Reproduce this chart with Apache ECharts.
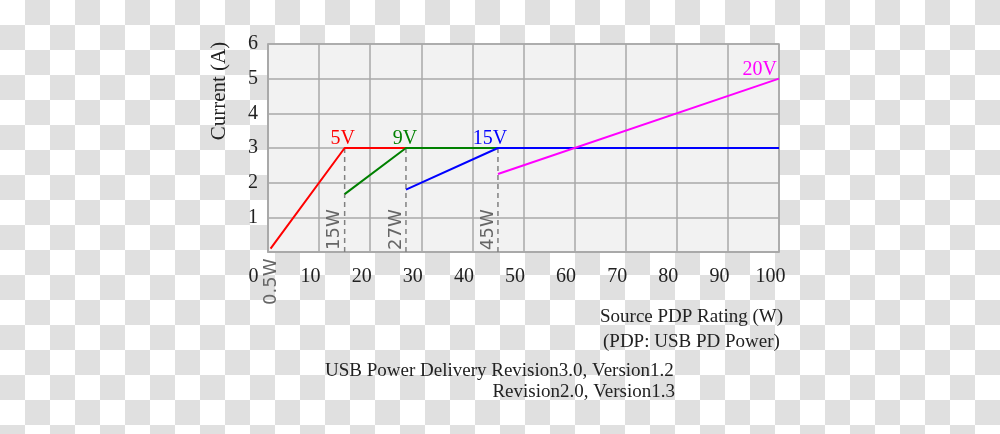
<!DOCTYPE html>
<html>
<head>
<meta charset="utf-8">
<script src="https://cdn.jsdelivr.net/npm/echarts@6/dist/echarts.min.js"></script>
<style>
html,body{margin:0;padding:0;}
body{background:repeating-conic-gradient(#e0e0e0 0 25%, #ffffff 0 50%) 0 0 / 50px 50px;}
#main{width:1000px;height:434px;}
</style>
</head>
<body>
<div id="main"></div>
<script>
// ---- data ----
const series5V  = [[0.5, 0.1], [15, 3], [27, 3]];
const series9V  = [[15, 1.67], [27, 3], [45, 3]];
const series15V = [[27, 1.8], [45, 3], [100, 3]];
const series20V = [[45, 2.25], [100, 5]];
const guideWatts = [15, 27, 45];
const guideLabels = ['15W', '27W', '45W'];
const guideTop = 3;
const startPoint = [0.5, 0];
const startLabel = '0.5W';
const voltLabels = ['5V', '9V', '15V', '20V'];
const voltColors = ['#ff0000', '#008000', '#0000ff', '#ff00ff'];
const voltAnchors = [[15, 3], [27, 3], [45, 3], [100, 5]];
const xMin = 0, xMax = 100, xStep = 10;
const yMin = 0, yMax = 6, yStep = 1;
const yAxisName = 'Current (A)';
const xAxisName1 = 'Source PDP Rating (W)';
const xAxisName2 = '(PDP: USB PD Power)';
const note1 = 'USB Power Delivery Revision3.0, Version1.2';
const note2 = 'Revision2.0, Version1.3';

const SERIF = '"Liberation Serif", "DejaVu Serif", serif';
const SANS = '"DejaVu Sans", sans-serif';
const gridColor = '#a8a8a8';

const chart = echarts.init(document.getElementById('main'), null, {renderer: 'canvas'});

const guideSeries = guideWatts.map(w => ({
  type: 'line', data: [[w, 0], [w, guideTop]], symbol: 'none', silent: true,
  lineStyle: {color: '#808080', width: 1.5, type: [5, 4]}, z: 1
}));

function lineSeries(data, color) {
  return {type: 'line', data: data, symbol: 'none', silent: true,
    lineStyle: {color: color, width: 2}, z: 3};
}

chart.setOption({
  animation: false,
  backgroundColor: 'transparent',
  grid: {left: 268, right: 221, top: 44, bottom: 182, show: true,
    backgroundColor: '#f2f2f2', borderColor: gridColor, borderWidth: 1.5},
  xAxis: {
    type: 'value', min: xMin, max: xMax, interval: xStep,
    axisLine: {show: true, lineStyle: {color: gridColor, width: 1.5}},
    axisTick: {show: false},
    splitLine: {show: true, lineStyle: {color: gridColor, width: 1.5}},
    axisLabel: {color: '#222', fontFamily: SERIF, fontSize: 20, margin: 15,
      padding: [0, 17, 0, 0],
      formatter: v => (v === 0 ? '{z|0}' : String(v)),
      rich: {z: {color: '#222', fontFamily: SERIF, fontSize: 20, padding: [0, 12, 0, 0]}}}
  },
  yAxis: {
    type: 'value', min: yMin, max: yMax, interval: yStep,
    axisLine: {show: true, lineStyle: {color: gridColor, width: 1.5}},
    axisTick: {show: false},
    splitLine: {show: true, lineStyle: {color: gridColor, width: 1.5}},
    axisLabel: {color: '#222', fontFamily: SERIF, fontSize: 20, margin: 10,
      padding: [0, 0, 6, 0],
      formatter: v => (v === 0 ? '' : String(v))}
  },
  series: [
    ...guideSeries,
    lineSeries(series5V, voltColors[0]),
    lineSeries(series9V, voltColors[1]),
    lineSeries(series15V, voltColors[2]),
    lineSeries(series20V, voltColors[3])
  ]
});

const px = p => chart.convertToPixel({gridIndex: 0}, p);
const graphics = [];

// rotated W labels along guides
guideWatts.forEach((w, i) => {
  const p = px([w, 0]);
  graphics.push({type: 'text', x: p[0] - 10, y: p[1] - 2, rotation: Math.PI / 2,
    style: {text: guideLabels[i], fill: '#666', font: '18px ' + SANS,
      textAlign: 'left', textVerticalAlign: 'middle'}, z: 10});
});
{
  const p = px(startPoint);
  graphics.push({type: 'text', x: p[0] + 1, y: p[1] + 53, rotation: Math.PI / 2,
    style: {text: startLabel, fill: '#666', font: '18px ' + SANS,
      textAlign: 'left', textVerticalAlign: 'middle'}, z: 10});
}
// voltage labels
const voltOffsets = [[-2, 'center'], [-1, 'center'], [-8, 'center'], [-2, 'right']];
voltLabels.forEach((t, i) => {
  const p = px(voltAnchors[i]);
  graphics.push({type: 'text', x: p[0] + voltOffsets[i][0], y: p[1] + 1,
    style: {text: t, fill: voltColors[i], font: '20px ' + SERIF,
      textAlign: voltOffsets[i][1], textVerticalAlign: 'bottom'}, z: 10});
});
// axis names and notes
graphics.push({type: 'text', x: 219, y: 91, rotation: Math.PI / 2,
  style: {text: yAxisName, fill: '#222', font: '21px ' + SERIF,
    textAlign: 'center', textVerticalAlign: 'middle'}});
graphics.push({type: 'text', x: 600, y: 317,
  style: {text: xAxisName1, fill: '#222', font: '19px ' + SERIF,
    textAlign: 'left', textVerticalAlign: 'middle'}});
graphics.push({type: 'text', x: 603, y: 342,
  style: {text: xAxisName2, fill: '#222', font: '19px ' + SERIF,
    textAlign: 'left', textVerticalAlign: 'middle'}});
graphics.push({type: 'text', x: 325, y: 371,
  style: {text: note1, fill: '#222', font: '19px ' + SERIF,
    textAlign: 'left', textVerticalAlign: 'middle'}});
graphics.push({type: 'text', x: 675, y: 392,
  style: {text: note2, fill: '#222', font: '19px ' + SERIF,
    textAlign: 'right', textVerticalAlign: 'middle'}});

chart.setOption({graphic: graphics});
</script>
</body>
</html>
